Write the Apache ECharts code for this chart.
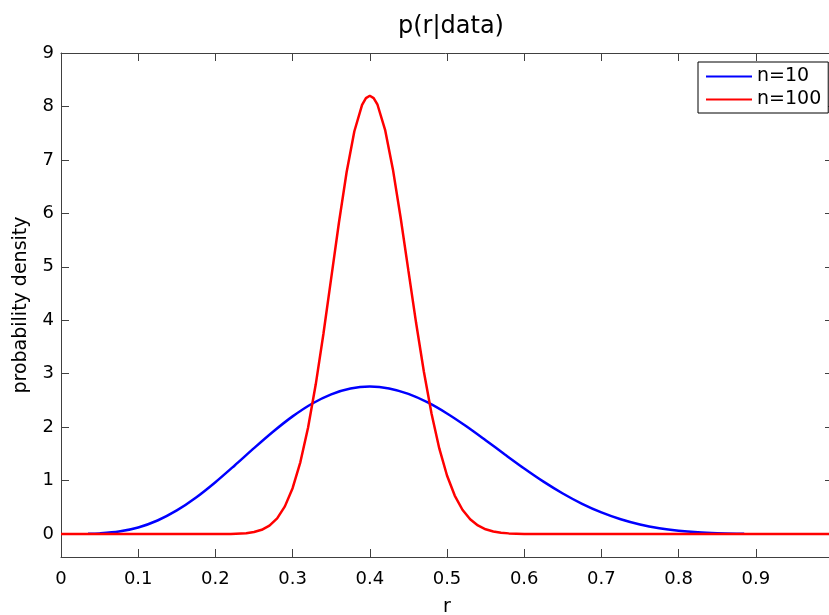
<!DOCTYPE html>
<html>
<head>
<meta charset="utf-8">
<script src="https://cdn.jsdelivr.net/npm/echarts@6/dist/echarts.min.js"></script>
<style>
  html, body { margin: 0; padding: 0; background: #fff; }
  #chart { width: 829px; height: 615px; }
</style>
</head>
<body>
<div id="chart"></div>
<script>
// posterior for n=10 (blue)
const blueR = [0.035, 0.05, 0.075, 0.1, 0.125, 0.15, 0.175, 0.2, 0.225, 0.25, 0.275, 0.3, 0.325, 0.35, 0.375, 0.4,
  0.425, 0.45, 0.475, 0.5, 0.525, 0.55, 0.575, 0.6, 0.625, 0.65, 0.675, 0.7, 0.725, 0.75, 0.775, 0.8, 0.825, 0.85, 0.875, 0.885];
const blueP = [0.003, 0.011, 0.046, 0.123, 0.253, 0.441, 0.683, 0.969, 1.283, 1.606, 1.918, 2.201, 2.438, 2.614, 2.723, 2.759,
  2.724, 2.622, 2.462, 2.256, 2.016, 1.755, 1.488, 1.226, 0.980, 0.758, 0.565, 0.404, 0.276, 0.178, 0.108, 0.061, 0.031, 0.014, 0.005, 0.004];

// posterior for n=100 (red)
const redR = [0, 0.1, 0.2, 0.22, 0.24, 0.25, 0.26, 0.27, 0.28, 0.29, 0.3, 0.31, 0.32, 0.33, 0.34, 0.35, 0.36, 0.37, 0.38, 0.39, 0.395, 0.4,
  0.405, 0.41, 0.42, 0.43, 0.44, 0.45, 0.46, 0.47, 0.48, 0.49, 0.5, 0.51, 0.52, 0.53, 0.54, 0.55, 0.56, 0.57, 0.58, 0.6, 0.62, 0.7, 0.8, 0.9, 1.0];
const redP = [0, 0, 0.0002, 0.002, 0.016, 0.037, 0.079, 0.157, 0.294, 0.517, 0.858, 1.342, 1.990, 2.801, 3.751, 4.788, 5.824, 6.773, 7.536, 8.030, 8.157, 8.2,
  8.157, 8.032, 7.551, 6.817, 5.912, 4.927, 3.947, 3.040, 2.250, 1.601, 1.095, 0.720, 0.454, 0.275, 0.160, 0.089, 0.048, 0.024, 0.012, 0.0025, 0.0004, 0, 0, 0, 0];

const seriesNames = ['n=10', 'n=100'];

const pairs = (xs, ys) => xs.map((x, i) => [x, ys[i]]);

const chart = echarts.init(document.getElementById('chart'));

const axisColor = '#404040';
const font = 'DejaVu Sans, Verdana, sans-serif';

const xBase = {
  type: 'value',
  min: 0,
  max: 1,
  interval: 0.1,
  axisLine: { show: true, onZero: false, lineStyle: { color: axisColor, width: 1 } },
  axisTick: { show: true, inside: true, length: 8, lineStyle: { color: axisColor } },
  splitLine: { show: false }
};
const yBase = {
  type: 'value',
  min: -0.43,
  max: 9,
  minInterval: 1,
  maxInterval: 1,
  axisLine: { show: true, onZero: false, lineStyle: { color: axisColor, width: 1 } },
  axisTick: { show: true, inside: true, length: 8, lineStyle: { color: axisColor } },
  splitLine: { show: false }
};

chart.setOption({
  animation: false,
  backgroundColor: '#fff',
  title: {
    text: 'p(r|data)',
    left: 446,
    textAlign: 'center',
    top: 10,
    textStyle: { fontFamily: font, fontSize: 24, fontWeight: 'normal', color: '#000' }
  },
  legend: {
    left: 698,
    top: 62,
    orient: 'vertical',
    data: seriesNames,
    icon: 'rect',
    itemWidth: 46,
    itemHeight: 2,
    itemGap: 4,
    padding: [5, 7, 4, 8],
    borderColor: '#000',
    borderWidth: 1,
    borderRadius: 0,
    backgroundColor: '#fff',
    textStyle: { fontFamily: font, fontSize: 19, lineHeight: 19, color: '#000' }
  },
  grid: { left: 61, top: 53, width: 772, height: 504, outerBoundsMode: 'none' },
  xAxis: [
    Object.assign({}, xBase, {
      position: 'bottom',
      name: 'r',
      nameLocation: 'middle',
      nameGap: 41,
      nameTextStyle: { fontFamily: font, fontSize: 19, color: '#000' },
      axisLabel: { show: true, showMaxLabel: false, margin: 13, fontFamily: font, fontSize: 18, color: '#000' }
    }),
    Object.assign({}, xBase, { position: 'top', axisLabel: { show: false } })
  ],
  yAxis: [
    Object.assign({}, yBase, {
      position: 'left',
      name: 'probability density',
      nameLocation: 'middle',
      nameGap: 30,
      nameTextStyle: { fontFamily: font, fontSize: 19, color: '#000' },
      axisLabel: { show: true, showMinLabel: false, margin: 7, fontFamily: font, fontSize: 18, color: '#000' }
    }),
    Object.assign({}, yBase, { position: 'right', axisLabel: { show: false } })
  ],
  series: [
    {
      name: seriesNames[0],
      type: 'line',
      data: pairs(blueR, blueP),
      symbol: 'none',
      smooth: 0.3,
      lineStyle: { color: '#0000ff', width: 2.5 },
      itemStyle: { color: '#0000ff' }
    },
    {
      name: seriesNames[1],
      type: 'line',
      data: pairs(redR, redP),
      symbol: 'none',
      lineStyle: { color: '#ff0000', width: 2.5 },
      itemStyle: { color: '#ff0000' }
    }
  ]
});
</script>
</body>
</html>
